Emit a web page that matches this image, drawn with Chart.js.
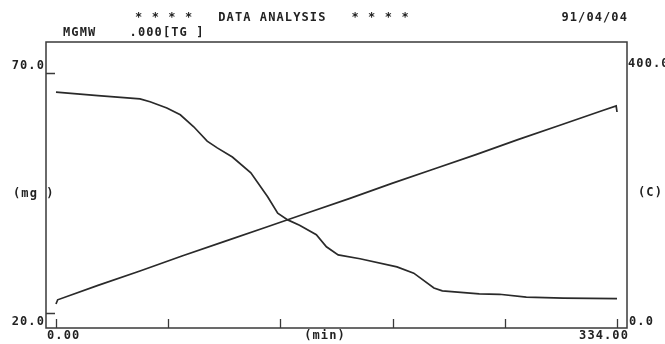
<!DOCTYPE html>
<html>
<head>
<meta charset="utf-8">
<script src="https://cdn.jsdelivr.net/npm/chart.js@4.4.0/dist/chart.umd.min.js"></script>
<style>
  html, body { margin: 0; padding: 0; background: #fff; }
</style>
</head>
<body>
<canvas id="tgChart" width="665" height="344"></canvas>
<script>
// TG curve: weight (mg) against time (min)
const tgTime = [0, 25, 50, 56, 66, 74, 82, 90, 96, 105, 116, 126, 132, 138, 145, 155, 161, 168, 181, 203, 213, 225, 230, 252, 264, 280, 302, 334];
const tgWeight = [66.0, 65.3, 64.6, 64.0, 62.7, 61.3, 58.8, 55.8, 54.4, 52.5, 49.2, 44.2, 40.8, 39.4, 38.3, 36.3, 33.8, 32.1, 31.3, 29.6, 28.3, 25.2, 24.6, 24.0, 23.9, 23.3, 23.1, 23.0];

// temperature program (C) against time (min)
const tempTime = [0, 1, 25, 50, 75, 100, 125, 150, 175, 200, 225, 250, 275, 300, 325, 333.5, 334];
const tempValue = [15, 22, 46, 70, 95, 119, 143, 167, 191, 216, 240, 264, 289, 313, 337, 345, 335];

// axis ticks and labels
const xTicks = [0, 66.8, 133.6, 200.4, 267.2, 334];
const xEndLabels = ['0.00', '334.00'];
const leftTicks = [70, 20];
const leftLabels = ['70.0', '20.0'];
const rightTicks = [400, 0];
const rightLabels = ['400.0', '0.0'];

const textFont = 'bold 12px "DejaVu Sans Mono", monospace';
const ink = '#222';

function put(ctx, str, x, y, align) {
    ctx.textAlign = align || 'left';
    ctx.fillText(str, x, y);
}

// Frame, tick marks and printed labels
const printout = {
    id: 'printout',
    afterDatasetsDraw(chart) {
        const ctx = chart.ctx;
        const a = chart.chartArea;
        const x = chart.scales.x;
        const yl = chart.scales.y;
        const yr = chart.scales.y2;
        ctx.save();
        ctx.strokeStyle = '#3a3a3a';
        ctx.lineWidth = 1.5;
        ctx.strokeRect(a.left, a.top, a.right - a.left, a.bottom - a.top);

        ctx.lineWidth = 1.3;
        ctx.beginPath();
        xTicks.forEach(v => {
            const px = Math.round(x.getPixelForValue(v)) + 0.5;
            ctx.moveTo(px, a.bottom);
            ctx.lineTo(px, a.bottom - 9);
        });
        leftTicks.forEach(v => {
            const py = Math.round(yl.getPixelForValue(v)) + 0.5;
            ctx.moveTo(a.left, py);
            ctx.lineTo(a.left + 9, py);
        });
        ctx.stroke();

        ctx.fillStyle = ink;
        ctx.font = textFont;
        ctx.letterSpacing = '1.1px';
        ctx.textBaseline = 'middle';

        put(ctx, '* * * *   DATA ANALYSIS   * * * *', 135, 18);
        put(ctx, '91/04/04', 628, 18, 'right');
        put(ctx, 'MGMW    .000[TG ]', 63, 33);

        put(ctx, leftLabels[0], 45, yl.getPixelForValue(leftTicks[0]) - 7, 'right');
        put(ctx, leftLabels[1], 45, yl.getPixelForValue(leftTicks[1]) + 9, 'right');
        put(ctx, rightLabels[0], a.right + 1, yr.getPixelForValue(rightTicks[0]) - 9);
        put(ctx, rightLabels[1], a.right + 2, yr.getPixelForValue(rightTicks[1]) + 9);
        put(ctx, '(mg )', 13, 194);
        put(ctx, '(C)', 638, 193);

        put(ctx, xEndLabels[0], x.getPixelForValue(0) - 9, 336);
        put(ctx, xEndLabels[1], x.getPixelForValue(334) + 12, 336, 'right');
        put(ctx, '(min)', 325, 336, 'center');
        ctx.restore();
    }
};

const lineStyle = {
    borderColor: '#2a2a2a',
    borderWidth: 1.7,
    pointRadius: 0,
    tension: 0,
    fill: false
};

new Chart(document.getElementById('tgChart'), {
    type: 'line',
    data: {
        datasets: [
            Object.assign({
                label: 'TG',
                yAxisID: 'y',
                data: tgTime.map((t, i) => ({ x: t, y: tgWeight[i] }))
            }, lineStyle),
            Object.assign({
                label: 'Temp',
                yAxisID: 'y2',
                data: tempTime.map((t, i) => ({ x: t, y: tempValue[i] }))
            }, lineStyle)
        ]
    },
    options: {
        responsive: false,
        animation: false,
        devicePixelRatio: 1,
        layout: { padding: { left: 46, right: 38, top: 42, bottom: 16 } },
        plugins: {
            legend: { display: false },
            tooltip: { enabled: false }
        },
        scales: {
            x: { type: 'linear', min: -5.95, max: 339.95, display: false },
            y: { min: 16.875, max: 76.458, display: false },
            y2: { min: -25, max: 451.67, display: false, position: 'right' }
        }
    },
    plugins: [printout]
});
</script>
</body>
</html>
